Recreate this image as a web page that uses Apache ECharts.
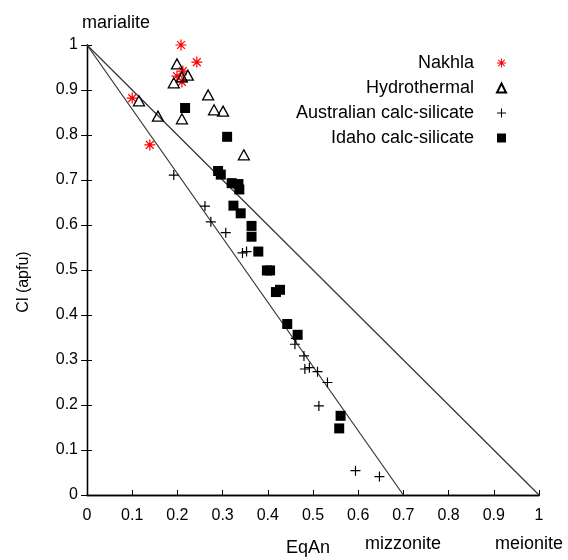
<!DOCTYPE html>
<html>
<head>
<meta charset="utf-8">
<script src="https://cdn.jsdelivr.net/npm/echarts@6/dist/echarts.min.js"></script>
<style>
  html, body { margin: 0; padding: 0; background: #fff; }
  #main { width: 568px; height: 560px; }
</style>
</head>
<body>
<div id="main"></div>
<script>
// values: [EqAn, Cl (apfu)]
const nakhla = [
  [0.208, 1.0], [0.243, 0.962], [0.212, 0.942], [0.199, 0.931],
  [0.210, 0.918], [0.100, 0.882], [0.139, 0.778]
];
const hydrothermal = [
  [0.199, 0.958], [0.223, 0.933], [0.210, 0.929], [0.192, 0.916],
  [0.268, 0.889], [0.115, 0.876], [0.281, 0.856], [0.301, 0.853],
  [0.157, 0.842], [0.210, 0.836], [0.347, 0.756]
];
const australian = [
  [0.192, 0.711], [0.261, 0.642], [0.274, 0.607], [0.307, 0.583],
  [0.344, 0.538], [0.353, 0.541], [0.460, 0.335], [0.462, 0.348],
  [0.480, 0.309], [0.482, 0.280], [0.492, 0.283], [0.510, 0.274],
  [0.532, 0.250], [0.513, 0.198], [0.594, 0.054], [0.647, 0.041]
];
const idaho = [
  [0.217, 0.860], [0.310, 0.796], [0.290, 0.720], [0.296, 0.712],
  [0.320, 0.693], [0.335, 0.691], [0.337, 0.679], [0.324, 0.643],
  [0.340, 0.626], [0.364, 0.598], [0.364, 0.574], [0.379, 0.541],
  [0.398, 0.499], [0.405, 0.499], [0.418, 0.451], [0.427, 0.456],
  [0.443, 0.380], [0.466, 0.356], [0.561, 0.176], [0.558, 0.148]
];
// marialite -> meionite and marialite -> mizzonite joins
const meioniteLine = [[0, 1], [1, 0]];
const mizzoniteLine = [[0, 1], [0.7, 0]];

const seriesNames = ['Nakhla', 'Hydrothermal', 'Australian calc-silicate', 'Idaho calc-silicate'];

// thin-armed symbols (asterisk, plus) built as filled paths
function armsPath(angles, L, w) {
  let d = '';
  angles.forEach(a => {
    const r = a * Math.PI / 180, c = Math.cos(r), s = Math.sin(r);
    const pts = [[L, w], [-L, w], [-L, -w], [L, -w]].map(([u, v]) =>
      [(u * c - v * s).toFixed(3), (u * s + v * c).toFixed(3)]);
    d += 'M' + pts.map(p => p.join(',')).join('L') + 'Z';
  });
  return 'path://' + d;
}
const starSymbol = armsPath([0, 45, 90, 135], 5, 0.55);
const plusSymbol = armsPath([0, 90], 5, 0.6);

const font = 'Liberation Sans, Arial, sans-serif';

var chartDom = document.getElementById('main');
var myChart = echarts.init(chartDom);

const option = {
  animation: false,
  backgroundColor: '#fff',
  textStyle: { fontFamily: font },
  grid: { left: 87, right: 29, top: 45, bottom: 65, outerBoundsMode: 'none' },
  legend: {
    data: seriesNames,
    orient: 'vertical',
    align: 'right',
    right: 56,
    top: 49,
    itemWidth: 9,
    itemHeight: 9,
    itemGap: 7,
    textStyle: { fontSize: 18, color: '#000', fontFamily: font, padding: [0, 18, 0, 0] }
  },
  xAxis: [
    {
      type: 'value', min: 0, max: 1, interval: 0.1,
      name: 'EqAn', nameLocation: 'middle', nameGap: 44,
      nameTextStyle: { fontSize: 18, color: '#000', padding: [0, 10, 0, 0] },
      axisLine: { lineStyle: { color: '#000', width: 1.3 } },
      axisTick: { inside: true, length: 5, lineStyle: { color: '#000' } },
      axisLabel: { fontSize: 16, color: '#000', margin: 13 },
      splitLine: { show: false }
    },
    {
      type: 'value', min: 0, max: 1, position: 'top',
      axisLine: { show: true, lineStyle: { color: '#000', width: 1.3 } },
      axisTick: { show: false }, axisLabel: { show: false }, splitLine: { show: false }
    }
  ],
  yAxis: [
    {
      type: 'value', min: 0, max: 1, interval: 0.1,
      axisLine: { show: true, lineStyle: { color: '#000', width: 1.3 } },
      axisTick: { show: true, inside: true, length: 5, lineStyle: { color: '#000' } },
      axisLabel: { fontSize: 16, color: '#000', margin: 9 },
      splitLine: { show: false }
    },
    {
      type: 'value', min: 0, max: 1, interval: 0.1, position: 'right',
      axisLine: { show: true, lineStyle: { color: '#000', width: 1.3 } },
      axisTick: { show: true, inside: true, length: 6, lineStyle: { color: '#000' } },
      axisLabel: { show: false }, splitLine: { show: false }
    }
  ],
  graphic: [
    { type: 'text', left: 82, top: 14, style: { text: 'marialite', fontSize: 18, fill: '#000', fontFamily: font } },
    { type: 'text', x: 403, y: 544, style: { text: 'mizzonite', fontSize: 18, fill: '#000', fontFamily: font, align: 'center', verticalAlign: 'middle' } },
    { type: 'text', x: 529, y: 544, style: { text: 'meionite', fontSize: 18, fill: '#000', fontFamily: font, align: 'center', verticalAlign: 'middle' } },
    { type: 'text', x: 24, y: 282, rotation: Math.PI / 2, style: { text: 'Cl (apfu)', fontSize: 16, fill: '#000', fontFamily: font, align: 'center', verticalAlign: 'middle' } }
  ],
  series: [
    {
      type: 'line', data: meioniteLine, showSymbol: false, silent: true,
      lineStyle: { color: '#333', width: 1.2 }, z: 1
    },
    {
      type: 'line', data: mizzoniteLine, showSymbol: false, silent: true,
      lineStyle: { color: '#333', width: 1.2 }, z: 1
    },
    {
      name: seriesNames[0], type: 'scatter', data: nakhla,
      symbol: starSymbol, symbolSize: 11,
      itemStyle: { color: '#f00', opacity: 1 }, z: 3
    },
    {
      name: seriesNames[1], type: 'scatter', data: hydrothermal,
      symbol: 'triangle', symbolSize: [11, 10],
      itemStyle: { color: 'rgba(255,255,255,0)', borderColor: '#000', borderWidth: 1.3, opacity: 1 }, z: 3
    },
    {
      name: seriesNames[2], type: 'scatter', data: australian,
      symbol: plusSymbol, symbolSize: 10,
      itemStyle: { color: '#000', opacity: 1 }, z: 3
    },
    {
      name: seriesNames[3], type: 'scatter', data: idaho,
      symbol: 'rect', symbolSize: 10,
      itemStyle: { color: '#000', opacity: 1 }, z: 3
    }
  ]
};

myChart.setOption(option);
window.addEventListener('resize', () => myChart.resize());
</script>
</body>
</html>
